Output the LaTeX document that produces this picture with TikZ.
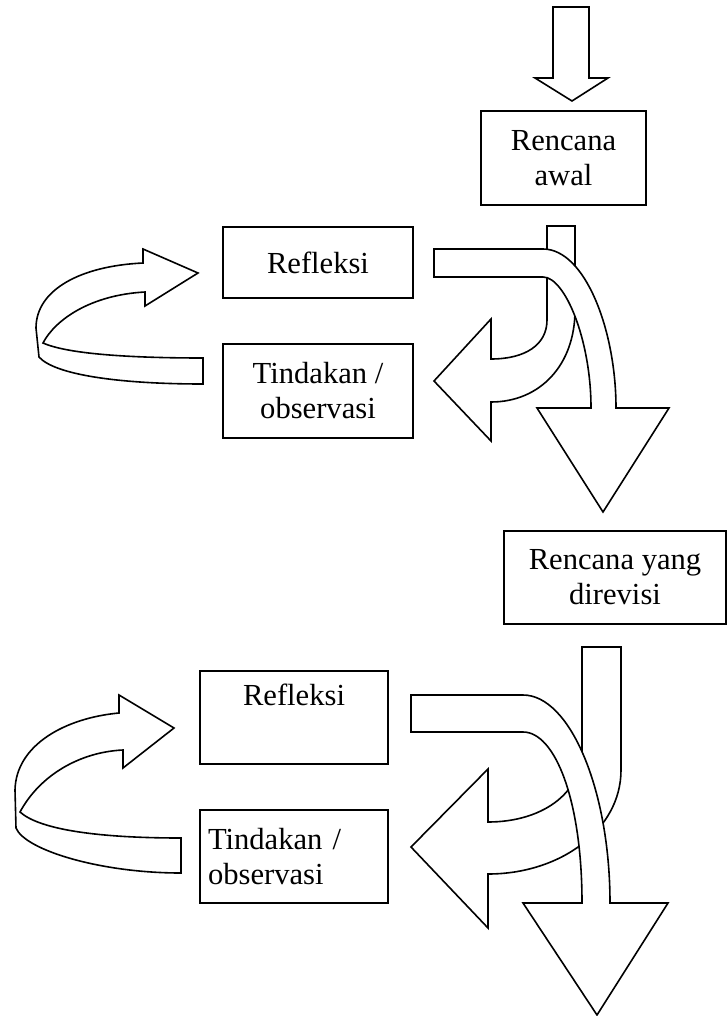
\documentclass[tikz,border=0pt]{standalone}
\usepackage{fontspec}
\setmainfont{Liberation Serif}
\tikzset{
  box/.style={draw, line width=1pt, inner xsep=4pt, font=\fontsize{15.3}{17.5}\selectfont},
  blockarrow/.style={draw, fill=white, line width=0.8pt, line join=miter},
}
\begin{document}
\begin{tikzpicture}[x=0.5pt, y=-0.5pt]
  \useasboundingbox (0,0) rectangle (727,1016);
  % first cycle
  \draw[blockarrow] (553,7) -- (589,7) -- (589,78) -- (608,78) -- (572,101) -- (535,78) -- (553,78) -- cycle;
  \node[box, minimum width=82.5pt, minimum height=47pt, align=center] (awal) at (563.5,158) {Rencana\\awal};
  \node[box, minimum width=95pt, minimum height=35.5pt, align=center] (refleksiA) at (318,262.5) {Refleksi};
  \node[box, minimum width=95pt, minimum height=47pt, align=center] (tindakanA) at (318,391) {Tindakan /\\observasi};
  \draw[blockarrow] (203,358) .. controls (140,358) and (70,355) .. (43,343)
    .. controls (55,320) and (90,295) .. (145,292)
    -- (145,306) -- (198,273) -- (143,249) -- (143,263)
    .. controls (80,266) and (36,290) .. (36,328)
    -- (39,357)
    .. controls (55,375) and (120,384) .. (203,384) -- cycle;
  \draw[blockarrow] (547,226) -- (575,226) -- (575,310) .. controls (575,365) and (540,402) .. (491,402)
    -- (491,441) -- (434,381) -- (491,319) -- (491,359)
    .. controls (525,359) and (547,345) .. (547,320) -- cycle;
  \draw[blockarrow] (434,249) -- (543,249) .. controls (585,249) and (616,330) .. (616,408)
    -- (669,408) -- (603,512) -- (537,408) -- (591,408)
    .. controls (591,340) and (565,277) .. (543,277) -- (434,277) -- cycle;
  % second cycle
  \node[box, minimum width=111pt, minimum height=46.5pt, align=center] (revisi) at (615,577.5) {Rencana yang\\direvisi};
  \node[box, minimum width=94pt, minimum height=46.5pt, align=center] (refleksiB) at (294,717.5) {Refleksi\\\strut};
  \node[box, minimum width=94pt, minimum height=46.5pt, text width=86pt, align=left] (tindakanB) at (294,856.5) {Tindakan /\\observasi};
  \draw[blockarrow] (181,838) .. controls (100,838) and (40,830) .. (20,812)
    .. controls (40,775) and (80,752) .. (123,750)
    -- (123,768) -- (174,728) -- (119,695) -- (119,713)
    .. controls (65,718) and (16,745) .. (15,790)
    -- (16,828)
    .. controls (25,850) and (100,873) .. (181,873) -- cycle;
  \draw[blockarrow] (582,647) -- (621,647) -- (621,770) .. controls (621,830) and (560,874) .. (488,874)
    -- (488,928) -- (411,847) -- (488,769) -- (488,822)
    .. controls (540,822) and (582,795) .. (582,750) -- cycle;
  \draw[blockarrow] (411,695) -- (523,695) .. controls (570,695) and (610,790) .. (610,903)
    -- (668,903) -- (597,1015) -- (523,903) -- (582,903)
    .. controls (582,800) and (555,732) .. (523,732) -- (411,732) -- cycle;
\end{tikzpicture}
\end{document}
